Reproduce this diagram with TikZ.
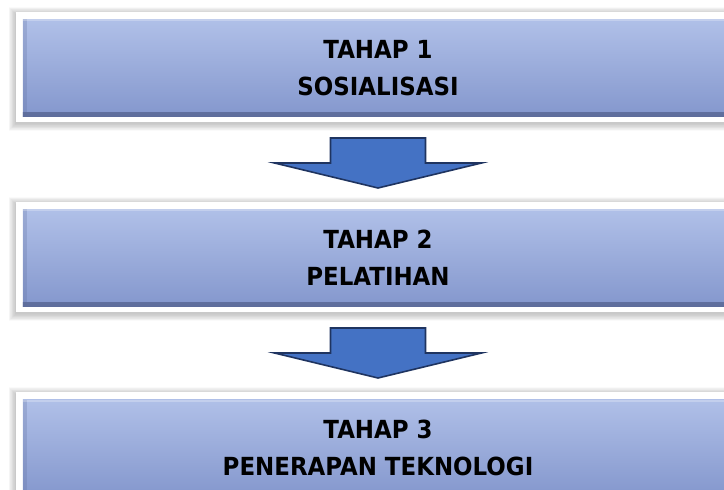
\documentclass[tikz,border=0pt]{standalone}
\usepackage{fontspec}
\newfontfamily\tahapfont{DejaVu Sans}[FakeStretch=0.92]
\usetikzlibrary{positioning,calc,backgrounds}
\definecolor{boxtop}{HTML}{B0C0E8}
\definecolor{boxbot}{HTML}{8497CD}
\definecolor{boxedge}{HTML}{5E6D9C}
\definecolor{arrowfill}{HTML}{4472C4}
\definecolor{arrowline}{HTML}{1F3460}

\begin{document}
\begin{tikzpicture}[x=1bp,y=1bp,node distance=92.6bp,
stage node/.style={minimum width=710bp,minimum height=97bp,inner sep=0pt,top color=boxtop,bottom color=boxbot,align=center,font=\tahapfont\bfseries\fontsize{25}{37}\selectfont,
path picture={
\shade[top color=boxbot,bottom color=boxedge] ([yshift=4bp]path picture bounding box.south west) rectangle (path picture bounding box.south east);
\fill[boxedge,opacity=0.25] (path picture bounding box.south west) rectangle ([xshift=4bp]path picture bounding box.north west);
\fill[white,opacity=0.25] ([yshift=-2bp]path picture bounding box.north west) rectangle (path picture bounding box.north east);
}},
down arrow/.style={fill=arrowfill,draw=arrowline,line width=1.6bp,line join=miter}]
\clip (0,0) rectangle (724,-490);
\useasboundingbox (0,0) rectangle (724,-490);

\node[stage node] (1) at (378,-68) {TAHAP 1\\SOSIALISASI};
\node[stage node] (2) [below=of 1] {TAHAP 2\\PELATIHAN};
\node[stage node] (3) [below=of 2] {TAHAP 3\\PENERAPAN TEKNOLOGI};

% white frame and soft shadow behind each stage
\begin{scope}[on background layer]
\foreach \n in {1,2,3}{
  \foreach \k in {0.6,1.2,...,7.2}
    \fill[black,opacity=0.02] ([shift={(-7-\k,5+\k)}]\n.north west) rectangle ([shift={(7+\k,-7-\k)}]\n.south east);
  \fill[white] ([shift={(-7,7)}]\n.north west) rectangle ([shift={(7,-5)}]\n.south east);
}
\end{scope}

% block arrows between the stages
\coordinate (12) at ($(1.south)!0.5!(2.north)$);
\coordinate (23) at ($(2.south)!0.5!(3.north)$);
\foreach \m in {12,23}
\draw[down arrow] ([shift={(-47.5,25)}]\m) -- ([shift={(47.5,25)}]\m) -- ([shift={(47.5,0)}]\m)
  -- ([shift={(103.5,0)}]\m) -- ([shift={(0,-25)}]\m) -- ([shift={(-103.5,0)}]\m)
  -- ([shift={(-47.5,0)}]\m) -- cycle;
\end{tikzpicture}
\end{document}
